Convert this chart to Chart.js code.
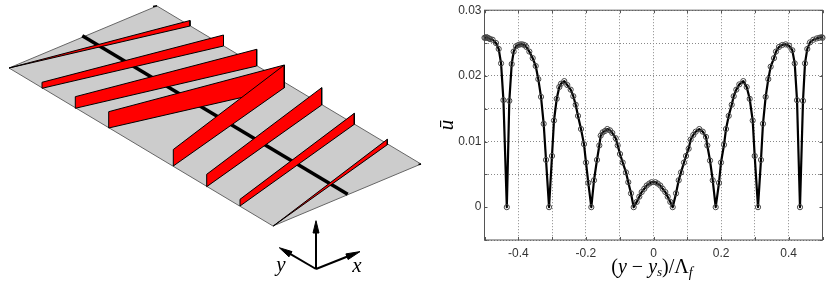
<!DOCTYPE html>
<html>
<head>
<meta charset="utf-8">
<style>
html,body{margin:0;padding:0;background:#fff;width:830px;height:281px;overflow:hidden}
canvas{position:absolute;top:0}
#sketch{left:0}
#profile{left:430px}
</style>
<script src="https://cdn.jsdelivr.net/npm/chart.js@4/dist/chart.umd.min.js"></script>
</head>
<body>
<canvas id="sketch" width="430" height="281"></canvas>
<canvas id="profile" width="400" height="281"></canvas>
<script>
// ---- right panel data ----
const yPositions = [-0.5,-0.497,-0.494,-0.491,-0.487,-0.483,-0.476,-0.466,-0.458,-0.451,-0.444,-0.434,
 -0.4266,-0.4195,-0.4137,-0.4068,-0.4,-0.394,-0.388,-0.382,-0.376,-0.3674,-0.3574,-0.3485,-0.3408,-0.3328,-0.3249,-0.318,-0.309,
 -0.3003,-0.2944,-0.2864,-0.2787,-0.2737,-0.2639,-0.255,-0.245,-0.2373,-0.2302,-0.2234,-0.2145,-0.2056,-0.1997,-0.1929,-0.184,
 -0.176,-0.1672,-0.1603,-0.1562,-0.1503,-0.1435,-0.1367,-0.1287,-0.1219,-0.1118,-0.1059,-0.0991,-0.0911,-0.0814,-0.0746,-0.0666,-0.0586,
 -0.0497,-0.042,-0.035,-0.0272,-0.0201,-0.0124,-0.0054,0.0054,0.0124,0.0201,0.0272,0.035,0.042,0.0497,0.0568,
 0.0666,0.0746,0.0814,0.0902,0.0962,0.104,0.11,0.1178,0.1249,0.1355,0.1456,0.1553,0.1592,0.1672,0.1752,0.184,
 0.1938,0.1997,0.2086,0.2145,0.2225,0.2314,0.2373,0.245,0.2539,0.2657,0.2757,0.2846,0.2935,0.2994,0.3092,
 0.318,0.3239,0.3318,0.3396,0.3467,0.3565,0.3624,0.3713,0.3811,0.3911,0.4009,0.4107,0.4178,0.4246,0.4334,
 0.4423,0.4482,0.455,0.463,0.4728,0.4828,0.4905,0.4975,0.5];
const uValues = [0.0258,0.0258,0.0259,0.0258,0.0257,0.0256,0.0255,0.025,0.0241,0.0219,0.0163,0,
 0.0162,0.0218,0.0237,0.0245,0.0247,0.0248,0.0248,0.0247,0.0244,0.0237,0.0227,0.0215,0.0195,0.0168,0.0127,0.0072,0,
 0.0078,0.0132,0.0165,0.0183,0.0188,0.0192,0.0186,0.0179,0.0169,0.0156,0.0139,0.0119,0.0096,0.0068,0.0037,0,
 0.0041,0.0072,0.0094,0.0109,0.0114,0.0116,0.0119,0.0117,0.0113,0.0105,0.0094,0.0081,0.0068,0.0053,0.0038,0.0021,0,
 0.0008,0.0016,0.0023,0.0028,0.0033,0.0036,0.0038,0.0038,0.0036,0.0033,0.0028,0.0023,0.0016,0.0008,0,
 0.0021,0.0041,0.0053,0.0068,0.0078,0.0089,0.0103,0.011,0.0115,0.0119,0.0115,0.0107,0.0094,0.0071,0.0041,0,
 0.0037,0.0068,0.0095,0.0119,0.0139,0.0156,0.0169,0.0179,0.0187,0.0192,0.0183,0.0165,0.0132,0.0078,0,
 0.0072,0.0127,0.0168,0.0195,0.0214,0.0227,0.0237,0.0244,0.0247,0.0248,0.0246,0.0239,0.0219,0.0163,0,
 0.0162,0.0219,0.0241,0.0251,0.0255,0.0257,0.0258,0.0259,0.0258];
const xTickValues = [-0.4,-0.2,0,0.2,0.4];
const xTickLabels = ['-0.4','-0.2','0','0.2','0.4'];
const yTickValues = [0,0.01,0.02,0.03];
const yTickLabels = ['0','0.01','0.02','0.03'];
const xTitleParts = ['(','y',' \u2212 ','y','s',')/\u039B','f'];
const yTitleText = '\u016B';

// ---- left panel data: outlines ----
const plateX = [9,157,421,273,9];
const plateY = [68,6,164,226,68];
const barX = [82.3,347.7];
const barY = [35.7,194.3];
const fin1X = [9,190,190,9];       const fin1Y = [68,20.5,26,68];
const fin2X = [42,223.5,223.5,42,42];   const fin2Y = [82.3,35,46,88.3,82.3];
const fin3X = [75.3,256.7,256.7,75.3,75.3]; const fin3Y = [96.7,49.3,66,108.3,96.7];
const fin4X = [108.7,284.3,284.3,108.7,108.7]; const fin4Y = [111.7,65,87.7,128,111.7];
const fin5X = [173.3,284.3,284.3,173.3,173.3]; const fin5Y = [149.5,65,87.7,166,149.5];
const fin6X = [206.7,321.7,321.7,206.7,206.7]; const fin6Y = [174.3,87.7,105,186.7,174.3];
const fin7X = [240,354.3,354.3,240,240];    const fin7Y = [199.3,113.3,124.3,206,199.3];
const fin8X = [273.3,387.3,387.3,273.3];    const fin8Y = [226,139.3,144.7,226];
const tipTopX = [153,157];      const tipTopY = [6.4,5.8];
const tipRightX = [418.5,421];  const tipRightY = [164.6,164];
const axisZX = [316,316]; const axisZY = [269,228];
const axisXX = [316,350]; const axisXY = [269,255.5];
const axisYX = [316,288]; const axisYY = [269,252.7];
const headZX = [316,319,313,316]; const headZY = [220.7,233,233,220.7];
const headXX = [360,348.1,345.9,360]; const headXY = [251.6,259.5,253.9,251.6];
const headYX = [279.3,292,289,279.3]; const headYY = [247.7,251.6,256.8,247.7];
const axisLabels = ['y','x'];
const axisLabelX = [281,357];
const axisLabelY = [265,266];

function pts(xs,ys){return xs.map((x,i)=>({x:x,y:ys[i]}));}
function poly(xs,ys,fill,stroke,w){
  return {data:pts(xs,ys),showLine:true,fill:'shape',backgroundColor:fill,borderColor:stroke,borderWidth:w,
    pointRadius:0,tension:0,borderJoinStyle:'miter'};
}
function stroke(xs,ys,c,w){
  return {data:pts(xs,ys),showLine:true,fill:false,borderColor:c,borderWidth:w,pointRadius:0,tension:0,borderCapStyle:'butt'};
}
const RED='#ff0000', INK='#000000';
// listed bottom-most first, reversed below because Chart.js paints the first dataset last
const layers = [
  poly(plateX,plateY,'#cccccc','#666666',1),
  stroke(tipTopX,tipTopY,INK,1.5),
  stroke(tipRightX,tipRightY,INK,1.5),
  stroke(barX,barY,INK,3.5),
  poly(fin1X,fin1Y,RED,INK,1),
  poly(fin2X,fin2Y,RED,INK,1),
  poly(fin3X,fin3Y,RED,INK,1),
  poly(fin4X,fin4Y,RED,INK,1),
  poly(fin5X,fin5Y,RED,INK,1),
  poly(fin6X,fin6Y,RED,INK,1),
  poly(fin7X,fin7Y,RED,INK,1),
  poly(fin8X,fin8Y,RED,INK,1),
  stroke(axisZX,axisZY,INK,2),
  stroke(axisXX,axisXY,INK,2),
  stroke(axisYX,axisYY,INK,2),
  poly(headZX,headZY,INK,INK,1),
  poly(headXX,headXY,INK,INK,1),
  poly(headYX,headYY,INK,INK,1)
].reverse();

const sketchLabels = {
  id:'sketchLabels',
  afterDraw(chart){
    const c=chart.ctx; const sx=chart.scales.x, sy=chart.scales.y;
    c.save();
    c.font='italic 21px "Liberation Serif"';
    c.fillStyle='#000'; c.textAlign='center'; c.textBaseline='middle';
    axisLabels.forEach((t,i)=>c.fillText(t,sx.getPixelForValue(axisLabelX[i]),sy.getPixelForValue(axisLabelY[i])));
    c.restore();
  }
};

new Chart(document.getElementById('sketch'),{
  type:'scatter',
  data:{datasets:layers},
  plugins:[sketchLabels],
  options:{
    responsive:false,animation:false,
    layout:{padding:0},
    plugins:{legend:{display:false},tooltip:{enabled:false}},
    scales:{
      x:{type:'linear',display:false,min:0,max:430},
      y:{type:'linear',display:false,min:0,max:281,reverse:true}
    }
  }
});

const frame = {
  id:'frame',
  beforeDatasetsDraw(chart){
    const c=chart.ctx, a=chart.chartArea, sx=chart.scales.x, sy=chart.scales.y;
    c.save();
    c.strokeStyle='#555555'; c.lineWidth=1;
    c.strokeRect(a.left,a.top,a.right-a.left,a.bottom-a.top);
    c.beginPath();
    sx.ticks.forEach(t=>{const p=Math.round(sx.getPixelForValue(t.value))+0.5;
      c.moveTo(p,a.bottom);c.lineTo(p,a.bottom-3);c.moveTo(p,a.top);c.lineTo(p,a.top+3);});
    sy.ticks.forEach(t=>{const p=Math.round(sy.getPixelForValue(t.value))+0.5;
      c.moveTo(a.left,p);c.lineTo(a.left+3,p);c.moveTo(a.right,p);c.lineTo(a.right-3,p);});
    c.stroke();
    c.restore();
  },
  afterDraw(chart){
    const c=chart.ctx, a=chart.chartArea;
    c.save();
    c.fillStyle='#000'; c.textBaseline='alphabetic'; c.textAlign='left';
    const fonts=['20px "Liberation Serif"','italic 20px "Liberation Serif"','20px "Liberation Serif"','italic 20px "Liberation Serif"','italic 13px "Liberation Serif"','20px "Liberation Serif"','italic 14px "Liberation Serif"'];
    const drops=[0,0,0,0,3,0,4];
    let w=0; xTitleParts.forEach((t,i)=>{c.font=fonts[i];w+=c.measureText(t).width;});
    let x=(a.left+a.right)/2-w/2-1.5;
    xTitleParts.forEach((t,i)=>{c.font=fonts[i];c.fillText(t,x,273+drops[i]);x+=c.measureText(t).width;});
    c.restore();
  }
};

function labelFor(values,labels,v){
  const i=values.findIndex(t=>Math.abs(t-v)<1e-6);
  return i<0?'':labels[i];
}

new Chart(document.getElementById('profile'),{
  type:'scatter',
  data:{datasets:[{
    data:pts(yPositions,uValues),
    showLine:true,fill:false,tension:0,
    borderColor:'#000000',borderWidth:2.2,borderJoinStyle:'round',
    pointRadius:2.6,pointBorderWidth:1,pointBorderColor:'#444444',pointBackgroundColor:'rgba(255,255,255,0)',
    clip:false
  }]},
  plugins:[frame],
  options:{
    responsive:false,animation:false,
    layout:{padding:{left:0,top:8.5,right:7.5,bottom:0}},
    plugins:{legend:{display:false},tooltip:{enabled:false}},
    scales:{
      x:{type:'linear',min:-0.5,max:0.5,
        afterFit(s){s.height=41;},
        ticks:{stepSize:0.1,autoSkip:false,maxRotation:0,padding:6,color:'#333333',
          font:{family:'"Liberation Sans"',size:12},
          callback:v=>labelFor(xTickValues,xTickLabels,v)},
        grid:{color:'#888888',drawTicks:false,lineWidth:1},
        border:{display:false,dash:[1,2]}
      },
      y:{type:'linear',min:-0.005,max:0.03,
        afterFit(s){s.width=54.5;},
        title:{display:true,text:yTitleText,color:'#000',padding:{top:5,bottom:0},
          font:{family:'"Liberation Serif"',style:'italic',size:21}},
        ticks:{stepSize:0.005,autoSkip:false,padding:3,color:'#333333',
          font:{family:'"Liberation Sans"',size:12},
          callback:v=>labelFor(yTickValues,yTickLabels,v)},
        grid:{color:c=>Math.abs(c.tick.value)<1e-9?'rgba(0,0,0,0)':'#888888',drawTicks:false,lineWidth:1},
        border:{display:false,dash:[1,2]}
      }
    }
  }
});
</script>
</body>
</html>
